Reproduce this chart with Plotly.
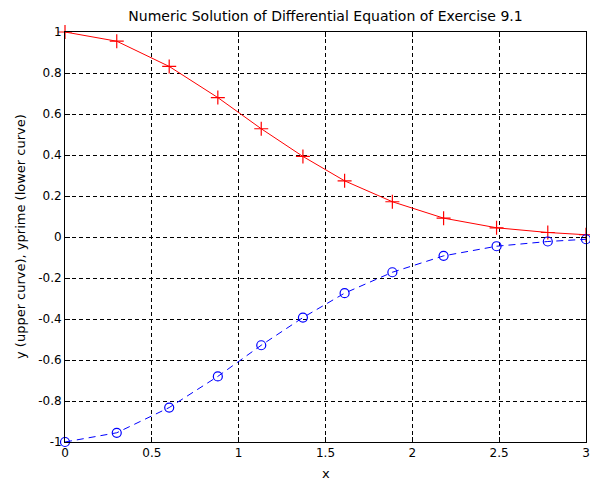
import plotly.graph_objects as go

x_vals = [0, 0.298, 0.60, 0.88, 1.13, 1.37, 1.61, 1.885, 2.18, 2.485, 2.78, 3.0]
y_vals = [1.0, 0.955, 0.832, 0.68, 0.528, 0.393, 0.274, 0.172, 0.092, 0.045, 0.022, 0.011]
yprime_vals = [-1.0, -0.955, -0.832, -0.68, -0.528, -0.393, -0.274, -0.172, -0.092, -0.045, -0.022, -0.011]

x_ticks = [0, 0.5, 1, 1.5, 2, 2.5, 3]
x_tick_labels = ["0", "0.5", "1", "1.5", "2", "2.5", "3"]
y_ticks = [-1, -0.8, -0.6, -0.4, -0.2, 0, 0.2, 0.4, 0.6, 0.8, 1]
y_tick_labels = ["-1", "-0.8", "-0.6", "-0.4", "-0.2", "0", "0.2", "0.4", "0.6", "0.8", "1"]

FONT = "DejaVu Sans, Verdana, sans-serif"

fig = go.Figure()
fig.add_trace(go.Scatter(
    x=x_vals, y=y_vals, mode="lines+markers",
    line=dict(color="#ff0000", width=1),
    marker=dict(symbol="cross-thin", size=10, line=dict(color="#ff0000", width=1.2)),
    cliponaxis=False, showlegend=False,
))
fig.add_trace(go.Scatter(
    x=x_vals, y=yprime_vals, mode="lines+markers",
    line=dict(color="#0000ff", width=1, dash="7px,5px"),
    marker=dict(symbol="circle-open", size=9, color="#0000ff", line=dict(color="#0000ff", width=1.2)),
    cliponaxis=False, showlegend=False,
))

axis_common = dict(
    showline=True, linecolor="black", linewidth=1, mirror="ticks",
    ticks="inside", ticklen=5, tickcolor="black",
    showgrid=True, gridcolor="black", gridwidth=1, griddash="4px,3px",
    zeroline=False, automargin=False, ticklabeloverflow="allow",
    tickfont=dict(family=FONT, size=12, color="black"),
)

W, H = 590, 481
L, R, T, B = 65, 4, 32, 39
pw, ph = W - L - R, H - T - B

fig.update_layout(
    width=W, height=H,
    paper_bgcolor="white", plot_bgcolor="white",
    margin=dict(l=L, r=R, t=T, b=B),
    title=dict(
        text="Numeric Solution of Differential Equation of Exercise 9.1",
        x=0.5, xref="paper", xanchor="center", y=1 - 16 / H, yanchor="middle",
        font=dict(family=FONT, size=14, color="black"),
    ),
    xaxis=dict(range=[0, 3], tickvals=x_ticks, ticktext=x_tick_labels, **axis_common),
    yaxis=dict(range=[-1, 1], tickvals=y_ticks, ticktext=y_tick_labels, **axis_common),
    annotations=[
        dict(text="x", xref="paper", yref="paper", x=0.5, y=-31 / ph,
             xanchor="center", yanchor="middle", showarrow=False,
             font=dict(family=FONT, size=13, color="black")),
        dict(text="y (upper curve), yprime (lower curve)", xref="paper", yref="paper",
             x=-45 / pw, y=0.5, xanchor="center", yanchor="middle", textangle=-90,
             showarrow=False, font=dict(family=FONT, size=13, color="black")),
    ],
)

fig.write_html(
    "out.html",
    config={"displayModeBar": False},
    post_script="document.body.style.margin='0';document.body.style.overflow='hidden';",
)
